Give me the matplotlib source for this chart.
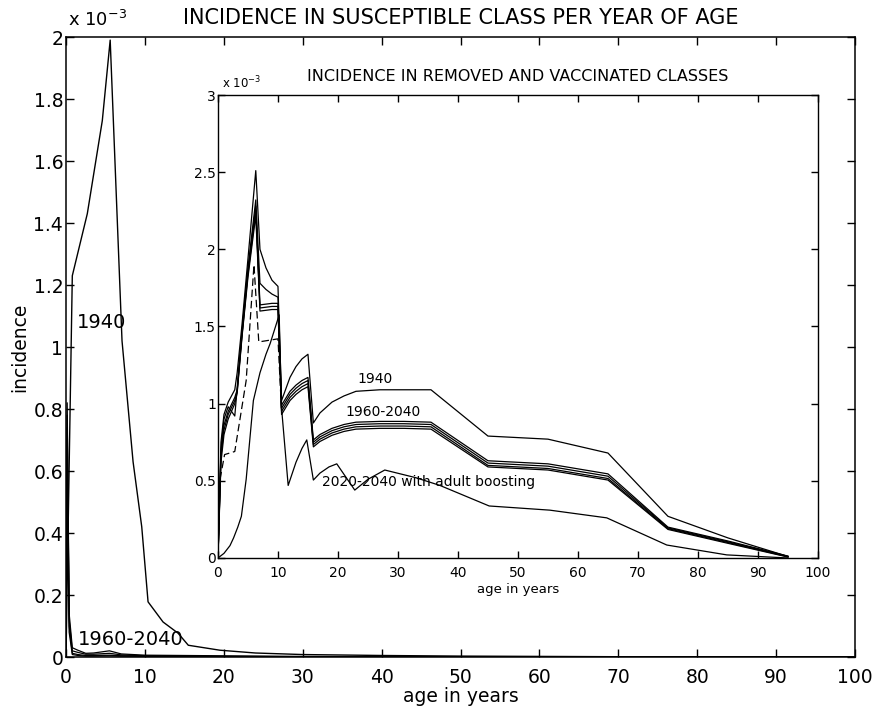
import matplotlib
matplotlib.use('Agg')
import matplotlib.pyplot as plt
from matplotlib.ticker import FormatStrFormatter, MultipleLocator

plt.rcParams['font.family'] = ['DejaVu Sans']
plt.rcParams['mathtext.fontset'] = 'dejavusans'

# ---- main panel: incidence in susceptible class (units of 1e-3) ----
main_age_1940 = [0, 0.8, 2.7, 4.6, 5.6, 7.1, 8.5, 9.6, 10.4, 12.3, 14.2, 15.5,
                 19.5, 24, 30, 40, 50, 60, 70, 80, 90, 100]
main_inc_1940 = [0, 1.23, 1.43, 1.73, 1.99, 1.02, 0.63, 0.42, 0.178, 0.113, 0.077, 0.038,
                 0.022, 0.013, 0.008, 0.005, 0.003, 0.002, 0.001, 0.0006, 0.0003, 0]

main_age_late = [0, 0.15, 0.4, 0.8, 1.5, 2.5, 3.5, 5.5, 7, 10, 15, 20, 30, 40, 60, 100]
main_inc_late = [
    [0, 0.82, 0.14, 0.030, 0.022, 0.012, 0.013, 0.020, 0.010, 0.006, 0.005, 0.004, 0.002, 0.001, 0, 0],
    [0, 0.78, 0.12, 0.020, 0.015, 0.009, 0.009, 0.012, 0.007, 0.004, 0.003, 0.002, 0.001, 0.0005, 0, 0],
    [0, 0.74, 0.10, 0.012, 0.008, 0.005, 0.005, 0.006, 0.004, 0.003, 0.002, 0.001, 0.0005, 0, 0, 0],
    [0, 0.70, 0.08, 0.008, 0.005, 0.003, 0.003, 0.004, 0.003, 0.002, 0.001, 0.0005, 0, 0, 0, 0],
]

# ---- inset: incidence in removed and vaccinated classes (units of 1e-3) ----
ins_age = [0, 0.5, 1, 1.7, 2.8, 3.2, 4, 5, 6.3, 7, 8, 9, 10, 10.6, 12, 13, 14, 15, 15.9,
           17, 19, 21, 23, 27, 31, 35.5, 45, 55, 65, 75, 85, 95]
ins_1940 = [0, 0.75, 0.93, 1.01, 1.09, 1.20, 1.51, 1.94, 2.51, 2.00, 1.88, 1.80, 1.76, 1.02,
            1.17, 1.24, 1.29, 1.32, 0.875, 0.94, 1.01, 1.05, 1.08, 1.09, 1.09, 1.09,
            0.79, 0.77, 0.68, 0.27, 0.13, 0.01]
ins_1960_2040 = [
    [0, 0.70, 0.90, 0.98, 0.92, 1.10, 1.47, 1.88, 2.32, 1.78, 1.74, 1.71, 1.69, 0.99,
     1.08, 1.12, 1.15, 1.17, 0.765, 0.80, 0.84, 0.865, 0.88, 0.885, 0.885, 0.88,
     0.63, 0.61, 0.545, 0.20, 0.11, 0.012],
    [0, 0.68, 0.86, 0.95, 1.04, 1.09, 1.45, 1.86, 2.28, 1.64, 1.645, 1.65, 1.65, 0.97,
     1.06, 1.10, 1.13, 1.15, 0.75, 0.785, 0.825, 0.85, 0.865, 0.87, 0.87, 0.865,
     0.615, 0.595, 0.53, 0.195, 0.105, 0.010],
    [0, 0.66, 0.83, 0.93, 1.02, 1.08, 1.44, 1.84, 2.25, 1.62, 1.625, 1.63, 1.63, 0.95,
     1.04, 1.08, 1.11, 1.13, 0.735, 0.77, 0.81, 0.835, 0.85, 0.855, 0.855, 0.85,
     0.60, 0.58, 0.515, 0.19, 0.10, 0.008],
    [0, 0.62, 0.80, 0.90, 1.00, 1.07, 1.43, 1.82, 2.22, 1.60, 1.605, 1.61, 1.61, 0.93,
     1.02, 1.06, 1.09, 1.11, 0.72, 0.755, 0.795, 0.82, 0.835, 0.84, 0.84, 0.835,
     0.59, 0.57, 0.505, 0.185, 0.095, 0.006],
]
dash_age = [0, 0.3, 1.1, 2.8, 4.7, 6.0, 6.8, 10, 10.6]
dash_inc = [0, 0.50, 0.67, 0.69, 1.15, 1.90, 1.40, 1.42, 0.95]

boost_age = [0, 1, 2, 2.6, 3.3, 3.9, 4.7, 5.9, 7, 8, 8.7, 10.2, 10.6, 11.7, 13, 14, 14.8,
             15.9, 17, 18.5, 19.8, 22.8, 25, 27.8, 33, 37, 45.2, 55.3, 64.8, 74.8, 84.8, 95]
boost_inc = [0, 0.03, 0.08, 0.13, 0.20, 0.27, 0.51, 1.02, 1.20, 1.32, 1.39, 1.575, 0.97,
             0.47, 0.62, 0.71, 0.765, 0.505, 0.55, 0.59, 0.61, 0.44, 0.51, 0.57, 0.52,
             0.47, 0.337, 0.31, 0.26, 0.084, 0.02, 0.0]

fig = plt.figure(figsize=(8.8, 7.09), dpi=100)

ax = fig.add_axes([0.075, 0.0733, 0.8966, 0.8745])
ax.plot(main_age_1940, main_inc_1940, color='black', lw=1.0)
for vals in main_inc_late:
    ax.plot(main_age_late, vals, color='black', lw=0.9)
ax.set_xlim(0, 100)
ax.set_ylim(0, 2)
ax.xaxis.set_major_locator(MultipleLocator(10))
ax.yaxis.set_major_locator(MultipleLocator(0.2))
ax.yaxis.set_major_formatter(FormatStrFormatter('%g'))
ax.tick_params(direction='in', top=True, right=True, length=6, width=1,
               labelsize=13.5)
ax.tick_params(axis='x', pad=8)
ax.tick_params(axis='y', pad=2)
for s in ax.spines.values():
    s.set_linewidth(1.1)
ax.text(0.5, 1.021, 'INCIDENCE IN SUSCEPTIBLE CLASS PER YEAR OF AGE',
        transform=ax.transAxes, fontsize=15, ha='center', va='baseline')
ax.set_xlabel('age in years', fontsize=13.5, va='baseline')
ax.xaxis.set_label_coords(0.5, -0.0726)
ax.set_ylabel('incidence', fontsize=13.5, va='baseline')
ax.yaxis.set_label_coords(-0.052, 0.5)
ax.text(0.002, 1.012, r'x 10$^{-3}$', transform=ax.transAxes, fontsize=13,
        ha='left', va='bottom')
ax.text(1.43, 1.079, '1940', fontsize=14, ha='left', va='center')
ax.text(1.48, 0.055, '1960-2040', fontsize=14, ha='left', va='center')

ins = fig.add_axes([0.2477, 0.213, 0.6818, 0.653])
ins.set_facecolor('white')
ins.plot(ins_age, ins_1940, color='black', lw=0.9)
for vals in ins_1960_2040:
    ins.plot(ins_age, vals, color='black', lw=0.9)
ins.plot(dash_age, dash_inc, color='black', lw=0.9, ls=(0, (6, 3)))
ins.plot(boost_age, boost_inc, color='black', lw=0.9)
ins.set_xlim(0, 100)
ins.set_ylim(0, 3)
ins.xaxis.set_major_locator(MultipleLocator(10))
ins.yaxis.set_major_locator(MultipleLocator(0.5))
ins.yaxis.set_major_formatter(FormatStrFormatter('%g'))
ins.tick_params(direction='in', top=True, right=True, length=5, width=1,
                labelsize=10)
ins.tick_params(axis='x', pad=6)
ins.tick_params(axis='y', pad=1.5)
for s in ins.spines.values():
    s.set_linewidth(1.0)
ins.text(0.5, 1.030, 'INCIDENCE IN REMOVED AND VACCINATED CLASSES',
         transform=ins.transAxes, fontsize=11.5, ha='center', va='baseline')
ins.set_xlabel('age in years', fontsize=9.5, va='baseline')
ins.xaxis.set_label_coords(0.5, -0.0756)
ins.text(0.007, 1.008, r'x 10$^{-3}$', transform=ins.transAxes, fontsize=8.5,
         ha='left', va='bottom')
ins.text(23.3, 1.16, '1940', fontsize=10, ha='left', va='center')
ins.text(21.3, 0.943, '1960-2040', fontsize=10, ha='left', va='center')
ins.text(17.4, 0.49, '2020-2040 with adult boosting', fontsize=10, ha='left', va='center')

fig.savefig('out.png', dpi=100, facecolor='white')
